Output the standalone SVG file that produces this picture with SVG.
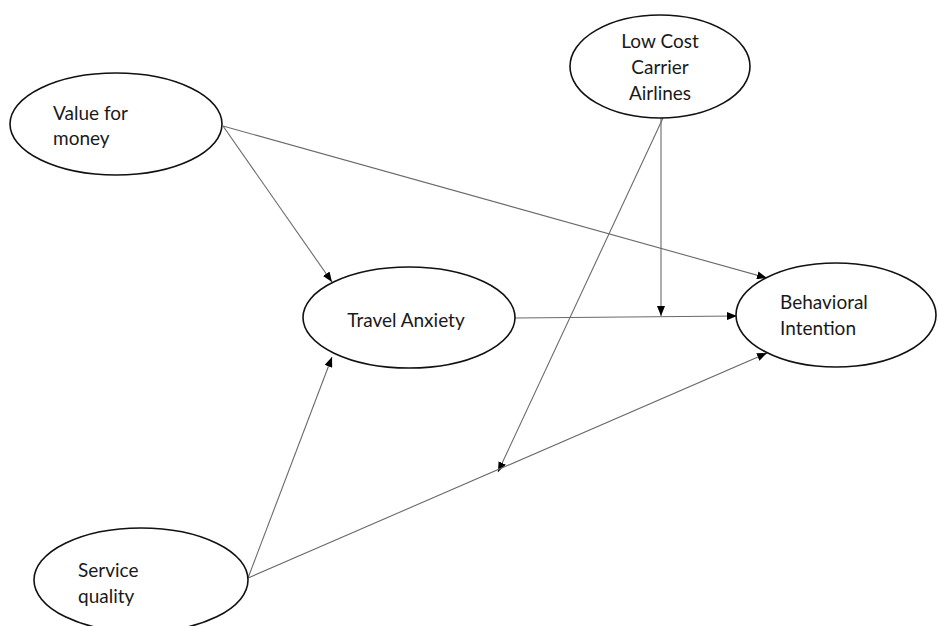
<svg xmlns="http://www.w3.org/2000/svg" width="938" height="626" viewBox="0 0 938 626">
  <style>
    .node ellipse { fill: #ffffff; stroke: #111111; stroke-width: 1.6; }
    .node text { font-family: Lato, "Open Sans", "Liberation Sans", sans-serif; font-size: 19px; fill: #1a1a1a; }
    .edge { stroke: #6a6a6a; stroke-width: 1.1; fill: none; marker-end: url(#arrow); }
  </style>
  <defs>
    <marker id="arrow" markerUnits="userSpaceOnUse" markerWidth="10" markerHeight="8" refX="10" refY="4" orient="auto">
      <path d="M0,0 L10,4 L0,8 z" fill="#000000"/>
    </marker>
  </defs>
  <rect width="938" height="626" fill="#ffffff"/>

  <!-- connectors -->
  <g id="connectors">
    <line class="edge" x1="223" y1="126" x2="767" y2="278"/>
    <line class="edge" x1="223" y1="126" x2="332" y2="282"/>
    <line class="edge" x1="515" y1="318" x2="737" y2="316"/>
    <line class="edge" x1="661" y1="118" x2="661" y2="316"/>
    <line class="edge" x1="663" y1="118" x2="498" y2="472"/>
    <line class="edge" x1="248" y1="578" x2="332" y2="357"/>
    <line class="edge" x1="248" y1="578" x2="767" y2="353"/>
  </g>

  <!-- nodes -->
  <g id="value-for-money" class="node">
    <ellipse cx="116" cy="124" rx="106" ry="51"/>
    <text x="53" y="120">Value for</text>
    <text x="53" y="145">money</text>
  </g>

  <g id="low-cost-carrier-airlines" class="node">
    <ellipse cx="660" cy="66.5" rx="90" ry="51.5"/>
    <text x="660" y="48" text-anchor="middle">Low Cost</text>
    <text x="660" y="74" text-anchor="middle">Carrier</text>
    <text x="660" y="100" text-anchor="middle">Airlines</text>
  </g>

  <g id="travel-anxiety" class="node">
    <ellipse cx="409" cy="317.5" rx="106" ry="50.5"/>
    <text x="406" y="327" text-anchor="middle">Travel Anxiety</text>
  </g>

  <g id="behavioral-intention" class="node">
    <ellipse cx="836" cy="315" rx="100" ry="52"/>
    <text x="780" y="309">Behavioral</text>
    <text x="780" y="335">Intention</text>
  </g>

  <g id="service-quality" class="node">
    <ellipse cx="141" cy="580" rx="107" ry="52"/>
    <text x="78" y="577">Service</text>
    <text x="78" y="603">quality</text>
  </g>
</svg>
